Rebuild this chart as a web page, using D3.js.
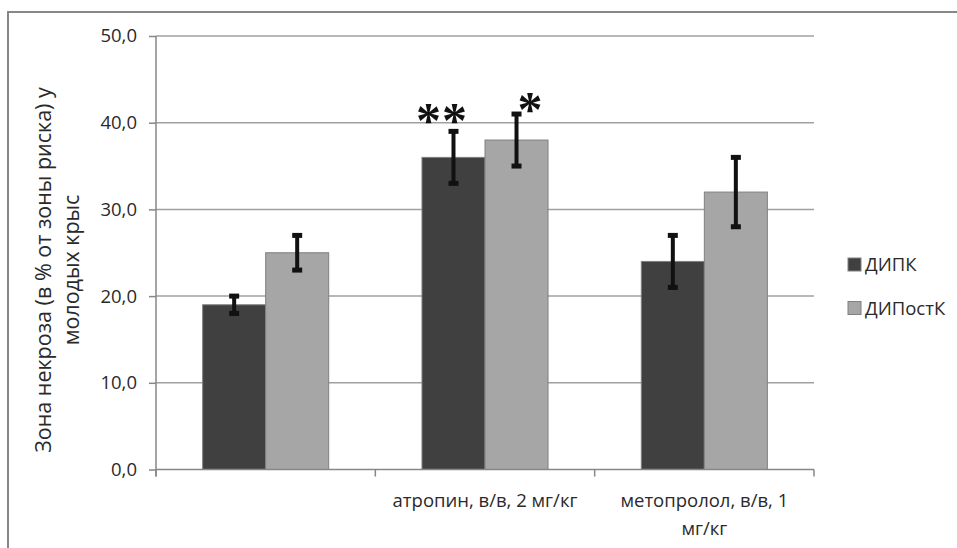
<!DOCTYPE html>
<html>
<head>
<meta charset="utf-8">
<script src="https://cdn.jsdelivr.net/npm/d3@7"></script>
<style>
  html, body { margin: 0; padding: 0; background: #fff; }
  svg { display: block; }
  text { font-family: "Open Sans", "Noto Sans", sans-serif; fill: #2a2a2a; }
</style>
</head>
<body>
<svg id="chart" width="957" height="548"></svg>
<script>
// Necrosis zone by treatment group and conditioning protocol
const categories = ["", "атропин, в/в, 2 мг/кг", "метопролол, в/в, 1 мг/кг"];
const seriesNames = ["ДИПК", "ДИПостК"];
const dipkValues = [19, 36, 24];
const dipkErrors = [1, 3, 3];
const dipostkValues = [25, 38, 32];
const dipostkErrors = [2, 3, 4];
const yTicks = [0, 10, 20, 30, 40, 50];
const yTitleLines = ["Зона некроза (в % от зоны риска) у", "молодых крыс"];
const significance = [
  { category: 1, series: 0, mark: "**" },
  { category: 1, series: 1, mark: "*" }
];

const seriesValues = [dipkValues, dipostkValues];
const seriesErrors = [dipkErrors, dipostkErrors];
const seriesColors = ["#404040", "#a6a6a6"];

const svg = d3.select("#chart");
const plot = { left: 156, right: 814, top: 36, bottom: 469.5 };

// outer frame of the chart area
svg.append("rect")
  .attr("x", 8).attr("y", 12)
  .attr("width", 1200).attr("height", 800)
  .attr("fill", "none").attr("stroke", "#878787").attr("stroke-width", 2);

const x0 = d3.scaleBand().domain(d3.range(categories.length))
  .range([plot.left, plot.right]).paddingInner(0).paddingOuter(0);
const x1 = d3.scaleBand().domain(d3.range(seriesNames.length))
  .range([0, x0.bandwidth()]).paddingInner(0).paddingOuter(0.74);
const y = d3.scaleLinear().domain([0, 50]).range([plot.bottom, plot.top]);

// gridlines
svg.append("g").selectAll("line").data(yTicks.filter(t => t > 0)).join("line")
  .attr("x1", plot.left).attr("x2", plot.right)
  .attr("y1", d => y(d)).attr("y2", d => y(d))
  .attr("stroke", "#a0a0a0").attr("stroke-width", 1.5);

// y axis
const yAxis = svg.append("g").attr("transform", `translate(${plot.left},0)`)
  .call(d3.axisLeft(y).tickValues(yTicks).tickSize(7).tickPadding(12)
    .tickFormat(d => d3.format(".1f")(d).replace(".", ",")));
yAxis.select(".domain").remove();
yAxis.selectAll(".tick line").attr("stroke", "#878787").attr("stroke-width", 1.5);
yAxis.selectAll(".tick text").attr("font-size", 18.5).attr("fill", "#2a2a2a")
  .attr("font-family", "Open Sans");
svg.append("line")
  .attr("x1", plot.left).attr("x2", plot.left)
  .attr("y1", plot.top).attr("y2", plot.bottom + 7)
  .attr("stroke", "#878787").attr("stroke-width", 1.5);

// bars
const groups = svg.append("g").selectAll("g").data(categories).join("g")
  .attr("transform", (d, i) => `translate(${x0(i)},0)`);
groups.selectAll("rect").data((d, i) => seriesValues.map((s, k) => ({ k, v: s[i] })))
  .join("rect")
  .attr("x", d => x1(d.k)).attr("width", x1.bandwidth())
  .attr("y", d => y(d.v)).attr("height", d => y(0) - y(d.v))
  .attr("fill", d => seriesColors[d.k])
  .attr("stroke", "#808080").attr("stroke-width", 1);

// x axis
svg.append("line")
  .attr("x1", plot.left).attr("x2", plot.right)
  .attr("y1", plot.bottom).attr("y2", plot.bottom)
  .attr("stroke", "#878787").attr("stroke-width", 1.5);
const boundaries = d3.range(categories.length + 1).map(i =>
  i < categories.length ? x0(i) : x0(i - 1) + x0.bandwidth());
svg.append("g").selectAll("line").data(boundaries).join("line")
  .attr("x1", d => d).attr("x2", d => d)
  .attr("y1", plot.bottom).attr("y2", plot.bottom + 7)
  .attr("stroke", "#878787").attr("stroke-width", 1.5);

// category labels, wrapped to the band width
const catLabels = svg.append("g").selectAll("text").data(categories).join("text")
  .attr("x", (d, i) => x0(i) + x0.bandwidth() / 2)
  .attr("y", 507)
  .attr("text-anchor", "middle").attr("font-size", 18.5);
catLabels.each(function (d) {
  const t = d3.select(this);
  const words = d.split(" ").filter(w => w.length);
  const maxW = x0.bandwidth() - 10;
  let line = [];
  let ts = t.append("tspan").attr("x", t.attr("x")).attr("dy", 0);
  words.forEach(w => {
    line.push(w);
    ts.text(line.join(" "));
    if (ts.node().getComputedTextLength() > maxW && line.length > 1) {
      line.pop();
      ts.text(line.join(" "));
      line = [w];
      ts = t.append("tspan").attr("x", t.attr("x")).attr("dy", 28).text(w);
    }
  });
});

// error bars
const errData = [];
categories.forEach((c, i) => seriesValues.forEach((s, k) => {
  errData.push({ cx: x0(i) + x1(k) + x1.bandwidth() / 2, v: s[i], e: seriesErrors[k][i] });
}));
const eg = svg.append("g");
eg.selectAll("line").data(errData).join("line")
  .attr("x1", d => d.cx).attr("x2", d => d.cx)
  .attr("y1", d => y(d.v + d.e)).attr("y2", d => y(d.v - d.e))
  .attr("stroke", "#111").attr("stroke-width", 4);
eg.selectAll("rect.cap").data(errData.flatMap(d => [
    { cx: d.cx, v: d.v + d.e }, { cx: d.cx, v: d.v - d.e }]))
  .join("rect").attr("class", "cap")
  .attr("x", d => d.cx - 5).attr("width", 10)
  .attr("y", d => y(d.v) - 2.5).attr("height", 5)
  .attr("fill", "#111");

// significance marks
const markLayout = [{ dx: -25, dy: -19, gap: 26 }, { dx: 13.5, dy: -13, gap: 26 }];
significance.forEach((s, n) => {
  const cx = x0(s.category) + x1(s.series) + x1.bandwidth() / 2 + markLayout[n].dx;
  const top = y(seriesValues[s.series][s.category] + seriesErrors[s.series][s.category]);
  const cy = top + markLayout[n].dy;
  s.mark.split("").forEach((ch, j) => {
    svg.append("text")
      .attr("x", cx + j * markLayout[n].gap)
      .attr("y", cy + 25)
      .attr("text-anchor", "middle")
      .style("font-family", "'Liberation Serif', serif")
      .style("font-weight", "bold")
      .attr("font-size", 50).style("fill", "#111")
      .text(ch);
  });
});

// y axis title
const yTitle = svg.append("text")
  .attr("transform", "translate(50.5,270) rotate(-90)")
  .attr("text-anchor", "middle").attr("font-size", 21.5);
yTitleLines.forEach((l, i) => {
  yTitle.append("tspan").attr("x", 0).attr("dy", i === 0 ? 0 : 28).text(l);
});

// legend
const legend = svg.append("g").selectAll("g").data(seriesNames).join("g")
  .attr("transform", (d, i) => `translate(848,${258 + i * 43.5})`);
legend.append("rect").attr("width", 13).attr("height", 13)
  .attr("fill", (d, i) => seriesColors[i]).attr("stroke", "#808080").attr("stroke-width", 1);
legend.append("text").attr("x", 17).attr("y", 13).attr("font-size", 18.5).text(d => d);
</script>
</body>
</html>
